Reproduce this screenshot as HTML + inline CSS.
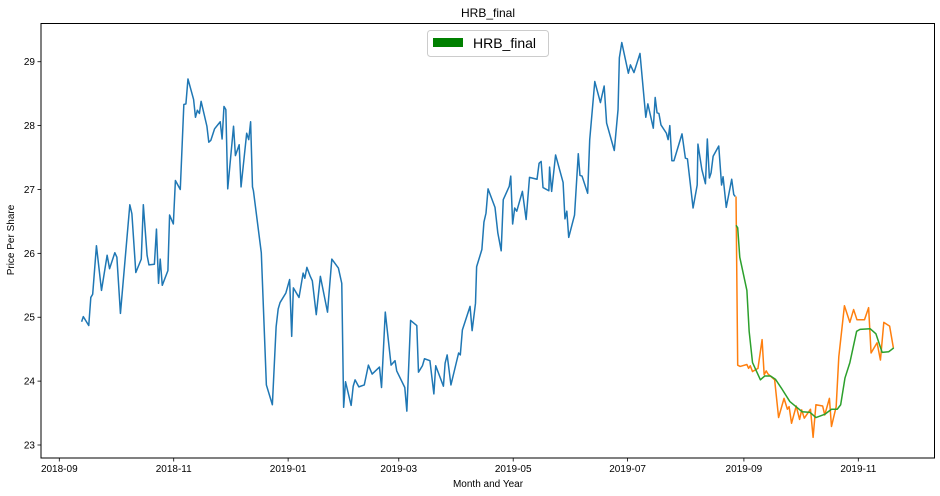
<!DOCTYPE html>
<html><head><meta charset="utf-8"><style>
html,body{margin:0;padding:0;background:#fff;}
svg{display:block;font-family:"Liberation Sans","DejaVu Sans",sans-serif;}
</style></head><body>
<svg id="chart" width="940" height="496" viewBox="0 0 940 496" xmlns="http://www.w3.org/2000/svg">
<rect x="0" y="0" width="940" height="496" fill="#fff"/>
<text x="488" y="17" text-anchor="middle" font-size="12" fill="#000">HRB_final</text>
<text x="488" y="487" text-anchor="middle" font-size="10" fill="#000">Month and Year</text>
<text transform="translate(14,240) rotate(-90)" text-anchor="middle" font-size="10" fill="#000">Price Per Share</text>
<g id="ticks"></g>
<g id="series"></g>
<rect x="41" y="23.5" width="893.5" height="434.5" fill="none" stroke="#000" stroke-width="1"/>
<g>
<rect x="427.5" y="30.5" width="121" height="26" rx="3" fill="#fff" stroke="#ccc"/>
<rect x="433" y="38" width="30" height="9" fill="#008000"/>
<text x="473" y="48" font-size="14" fill="#000">HRB_final</text>
</g>
</svg>
<script>
const yTicks = [23, 24, 25, 26, 27, 28, 29];
const xTickDays = [0, 61, 122, 181, 242, 303, 365, 426];
const xTickLabels = ["2018-09","2018-11","2019-01","2019-03","2019-05","2019-07","2019-09","2019-11"];

const blueDays = [11.9,12.8,15.7,16.8,17.8,19.8,22.5,25.5,26.8,29.6,30.7,32.6,37.6,38.7,40.8,43.7,44.8,46.8,47.8,50.7,51.8,52.9,53.8,54.9,57.9,58.8,60.8,61.9,64.5,66.4,67.5,68.6,71.6,72.6,73.6,74.7,75.6,78.7,79.7,80.8,82.8,85.8,86.8,87.8,88.8,89.8,92.9,93.9,95.9,96.9,99.9,101.0,102.0,103.0,103.5,107.7,110.4,113.6,115.6,116.7,117.7,120.8,122.8,123.9,124.8,127.8,130.0,130.9,132.0,133.8,134.9,137.0,139.2,143.0,145.3,148.8,150.6,151.6,152.6,155.6,156.7,157.7,159.7,162.6,164.8,166.8,170.7,171.8,173.8,176.9,179.0,179.9,184.2,185.3,187.3,190.6,191.5,193.6,194.7,197.6,199.7,200.7,204.8,205.7,206.8,208.8,212.9,213.8,214.9,219.0,220.1,221.9,222.5,225.3,226.4,227.5,228.6,232.3,233.8,235.6,236.7,239.9,240.7,241.7,242.8,243.9,246.9,248.9,250.7,254.7,255.8,256.9,257.9,261.0,261.4,262.5,264.6,268.6,269.6,270.6,271.6,274.7,276.7,277.6,278.7,281.7,282.8,285.5,288.5,290.5,291.8,295.9,297.9,298.6,299.9,303.4,304.5,306.4,309.6,312.7,313.8,316.7,317.7,318.7,319.7,320.8,323.7,324.6,325.5,326.6,327.7,332.0,333.8,334.9,337.9,340.1,340.5,342.6,344.5,345.5,346.6,347.5,348.6,351.6,353.1,353.9,355.6,358.5,359.6,360.4];
const bluePrices = [24.93,25.01,24.87,25.31,25.36,26.12,25.42,25.97,25.76,26.01,25.94,25.06,26.76,26.62,25.70,25.91,26.76,25.97,25.82,25.83,26.38,25.53,25.91,25.50,25.73,26.60,26.46,27.14,27.00,28.33,28.34,28.73,28.41,28.13,28.24,28.19,28.38,27.99,27.74,27.77,27.95,28.06,27.79,28.30,28.25,27.01,27.99,27.53,27.70,27.04,27.88,27.78,28.06,27.04,26.98,26.01,23.94,23.63,24.85,25.13,25.23,25.38,25.59,24.70,25.46,25.31,25.69,25.61,25.78,25.64,25.57,25.04,25.64,25.08,25.91,25.77,25.53,23.59,23.99,23.62,23.92,24.02,23.91,23.94,24.25,24.11,24.22,23.90,25.08,24.25,24.32,24.16,23.90,23.53,24.95,24.87,24.14,24.24,24.35,24.32,23.80,24.24,23.92,24.28,24.41,23.94,24.44,24.41,24.80,25.17,24.79,25.22,25.79,26.06,26.49,26.63,27.01,26.72,26.32,26.04,26.84,27.05,27.21,26.46,26.71,26.66,26.97,26.53,27.19,27.16,27.41,27.44,27.03,26.98,27.35,26.97,27.54,27.11,26.54,26.66,26.25,26.60,27.56,27.22,27.21,26.94,27.78,28.69,28.36,28.62,28.04,27.61,28.25,29.06,29.30,28.82,28.95,28.83,29.13,28.13,28.34,27.96,28.44,28.20,28.19,28.01,27.88,27.78,28.00,27.45,27.45,27.87,27.49,27.48,26.71,27.07,27.71,27.31,27.09,27.79,27.18,27.26,27.52,27.68,27.07,27.20,26.72,27.16,26.92,26.89];

const orangeDays = [360.8,361.7,363.0,366.6,367.5,368.4,369.6,372.5,374.7,375.8,376.9,377.9,381.4,383.5,386.4,388.2,389.1,390.4,392.9,394.7,395.8,397.2,400.5,401.9,403.4,407.0,408.1,410.6,411.7,414.2,415.6,418.6,421.5,423.5,425.3,429.3,431.5,432.8,436.0,437.8,439.6,442.7,444.7];
const orangePrices = [26.89,24.25,24.23,24.26,24.20,24.24,24.15,24.20,24.65,24.10,24.16,24.11,24.02,23.43,23.73,23.56,23.60,23.34,23.61,23.40,23.55,23.42,23.56,23.12,23.63,23.61,23.47,23.73,23.29,23.60,24.38,25.18,24.92,25.12,24.96,24.96,25.15,24.44,24.60,24.33,24.92,24.86,24.52];

const greenDays = [360.8,361.7,362.8,366.6,367.8,369.6,373.8,376.1,379.2,381.8,385.0,389.5,396.1,400.3,403.4,408.1,411.7,414.8,416.6,418.9,421.5,425.1,426.9,432.3,435.4,438.7,442.2,444.9];
const greenPrices = [26.44,26.40,25.94,25.42,24.78,24.29,24.02,24.08,24.08,24.03,23.89,23.68,23.52,23.51,23.43,23.48,23.56,23.56,23.63,24.05,24.29,24.78,24.81,24.82,24.74,24.45,24.46,24.52];

const NS = "http://www.w3.org/2000/svg";
function xScale(d){ return 59.3 + d * 1.8756; }
function yScale(v){ return 445 - (v - 23) * 63.88; }

const ticksG = document.getElementById('ticks');
yTicks.forEach(function(v){
  const y = yScale(v);
  const ln = document.createElementNS(NS,'line');
  ln.setAttribute('x1',37.5); ln.setAttribute('x2',41); ln.setAttribute('y1',y); ln.setAttribute('y2',y);
  ln.setAttribute('stroke','#000'); ln.setAttribute('stroke-width','0.8');
  
  
  ticksG.appendChild(ln);
  const t = document.createElementNS(NS,'text');
  t.setAttribute('x',35); t.setAttribute('y',y+3.5); t.setAttribute('text-anchor','end');
  t.setAttribute('font-size','10'); t.textContent = v;
  
  
  ticksG.appendChild(t);
});
xTickDays.forEach(function(d,i){
  const x = xScale(d);
  const ln = document.createElementNS(NS,'line');
  ln.setAttribute('x1',x); ln.setAttribute('x2',x); ln.setAttribute('y1',458); ln.setAttribute('y2',461.5);
  ln.setAttribute('stroke','#000'); ln.setAttribute('stroke-width','0.8');
  
  
  ticksG.appendChild(ln);
  const t = document.createElementNS(NS,'text');
  t.setAttribute('x',x); t.setAttribute('y',472); t.setAttribute('text-anchor','middle');
  t.setAttribute('font-size','10'); t.textContent = xTickLabels[i];
  
  
  ticksG.appendChild(t);
});

const seriesG = document.getElementById('series');
function drawLine(days, prices, color, name){
  const pts = days.map(function(d,i){ return xScale(d).toFixed(2)+','+yScale(prices[i]).toFixed(2); }).join(' ');
  const pl = document.createElementNS(NS,'polyline');
  pl.setAttribute('points', pts);
  pl.setAttribute('fill','none'); pl.setAttribute('stroke',color);
  pl.setAttribute('stroke-width','1.5'); pl.setAttribute('stroke-linejoin','round');
  
  
  seriesG.appendChild(pl);
}
drawLine(blueDays, bluePrices, '#1f77b4', 'actual-price-line');
drawLine(orangeDays, orangePrices, '#ff7f0e', 'test-price-line');
drawLine(greenDays, greenPrices, '#2ca02c', 'predicted-price-line');
</script>
</body></html>
